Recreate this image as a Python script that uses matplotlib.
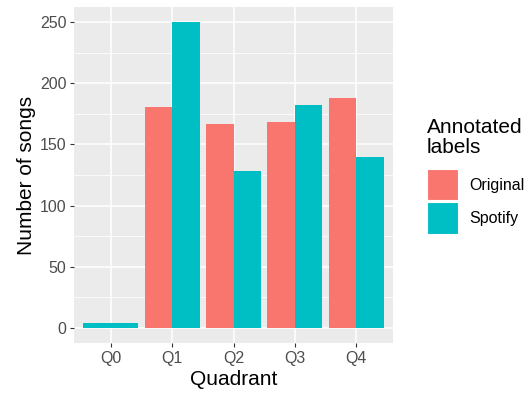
import numpy as np
import matplotlib.pyplot as plt
from matplotlib.ticker import MultipleLocator
from matplotlib.patches import Patch

plt.rcParams['font.family'] = ['Liberation Sans', 'DejaVu Sans']

# data
quadrants = ["Q0", "Q1", "Q2", "Q3", "Q4"]
original = [0, 181, 167, 168, 188]
spotify = [4, 250, 128, 182, 140]
col_orig = "#F8766D"
col_spot = "#00BFC4"

fig = plt.figure(figsize=(5.27, 3.96), dpi=100)
ax = fig.add_axes([74 / 527, 1 - 343 / 396, (393 - 74) / 527, (343 - 7) / 396])
ax.set_facecolor("#EBEBEB")

x = np.arange(1, len(quadrants) + 1)
w = 0.45
for i, q in enumerate(quadrants):
    if original[i] > 0:
        ax.bar(x[i] - w / 2, original[i], width=w, color=col_orig, zorder=3)
        ax.bar(x[i] + w / 2, spotify[i], width=w, color=col_spot, zorder=3)
    else:
        # only one group present -> ggplot dodge fills the full width
        ax.bar(x[i], spotify[i], width=2 * w, color=col_spot, zorder=3)

ax.set_xlim(0.4, 5.6)
ax.set_ylim(-12.5, 262.5)
ax.set_xticks(x)
ax.set_xticklabels(quadrants)
ax.yaxis.set_major_locator(MultipleLocator(50))
ax.yaxis.set_minor_locator(MultipleLocator(25))

ax.grid(True, which="major", color="white", linewidth=1.1, zorder=0)
ax.grid(True, which="minor", axis="y", color="white", linewidth=0.55, zorder=0)
ax.set_axisbelow(True)
for s in ax.spines.values():
    s.set_visible(False)

ax.tick_params(which="major", length=3, width=0.8, color="#333333",
               labelcolor="#4D4D4D", labelsize=11.5, pad=2.5)
ax.tick_params(which="minor", length=0)

ax.set_xlabel("Quadrant", fontsize=15, labelpad=3)
ax.set_ylabel("Number of songs", fontsize=15, labelpad=3)

# legend (title drawn separately to control its spacing)
fig.text(427 / 527, 1 - 118 / 396, "Annotated\nlabels", fontsize=15,
         ha="left", va="top", linespacing=1.05)
handles = [Patch(facecolor=col_orig, edgecolor="white", linewidth=0.8),
           Patch(facecolor=col_spot, edgecolor="white", linewidth=0.8)]
leg = fig.legend(handles, ["Original", "Spotify"],
                 loc="upper left", bbox_to_anchor=(427 / 527, 1 - 169 / 396),
                 frameon=False, fontsize=11.5,
                 handlelength=1.95, handleheight=2.65, labelspacing=0.12,
                 handletextpad=0.7, borderaxespad=0, borderpad=0)

fig.savefig("out.png", dpi=100)
